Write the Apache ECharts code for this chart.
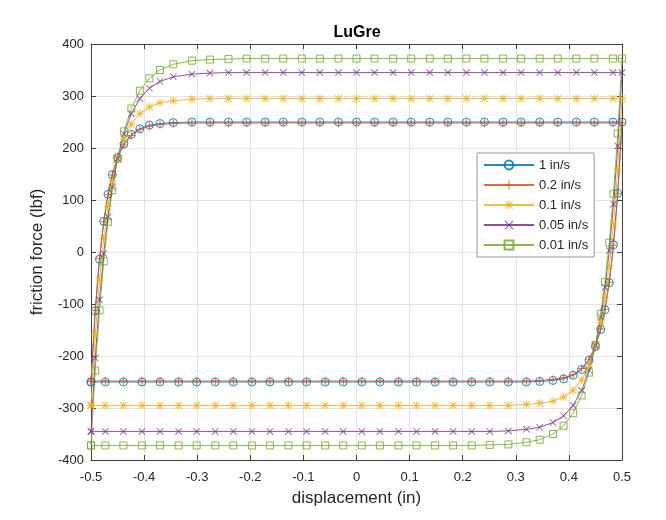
<!DOCTYPE html>
<html>
<head>
<meta charset="utf-8">
<script src="https://cdn.jsdelivr.net/npm/echarts@6/dist/echarts.min.js"></script>
<style>
  html, body { margin: 0; padding: 0; background: #fff; }
  #my_chart { width: 666px; height: 520px; }
</style>
</head>
<body>
<div id="my_chart"></div>
<script>
// displacement (in): going right (upper branch), then coming back (lower branch)
var upX = [-0.5, -0.492, -0.484, -0.476, -0.468, -0.46, -0.45, -0.438, -0.424, -0.408,
    -0.39, -0.37, -0.345, -0.31, -0.276, -0.241, -0.207, -0.172, -0.138, -0.103,
    -0.069, -0.034, 0, 0.034, 0.069, 0.103, 0.138, 0.172, 0.207, 0.241,
    0.276, 0.31, 0.345, 0.379, 0.414, 0.448, 0.483, 0.5];
var downX = [0.492, 0.484, 0.476, 0.468, 0.46, 0.45, 0.438, 0.424, 0.408, 0.39,
    0.37, 0.345, 0.32, 0.286, 0.251, 0.217, 0.182, 0.148, 0.113, 0.079,
    0.044, 0.01, -0.025, -0.059, -0.094, -0.128, -0.163, -0.197, -0.232, -0.266,
    -0.301, -0.335, -0.37, -0.404, -0.439, -0.473, -0.5];

// friction force (lbf)
var f1Up = [-250, -113, -14, 59, 111, 149, 182, 208, 226, 237, 244, 247, 249, 250,
    250, 250, 250, 250, 250, 250, 250, 250, 250, 250, 250, 250,
    250, 250, 250, 250, 250, 250, 250, 250, 250, 250, 250, 250];
var f1Down = [113, 14, -59, -111, -149, -182, -208, -226, -237, -244, -247, -249, -250, -250, -250,
    -250, -250, -250, -250, -250, -250, -250, -250, -250, -250, -250,
    -250, -250, -250, -250, -250, -250, -250, -250, -250, -250, -250];

var f02Up = [-248, -112, -13, 58, 110, 148, 181, 206, 224, 236, 242, 245, 247, 248,
    248, 248, 248, 248, 248, 248, 248, 248, 248, 248, 248, 248,
    248, 248, 248, 248, 248, 248, 248, 248, 248, 248, 248, 248];
var f02Down = [112, 13, -58, -110, -148, -181, -206, -224, -236, -242, -245, -247, -248, -248, -248,
    -248, -248, -248, -248, -248, -248, -248, -248, -248, -248, -248,
    -248, -248, -248, -248, -248, -248, -248, -248, -248, -248, -248];

var f01Up = [-295, -159, -54, 26, 88, 136, 180, 218, 246, 266, 279, 287, 291, 294,
    295, 295, 295, 295, 295, 295, 295, 295, 295, 295, 295, 295,
    295, 295, 295, 295, 295, 295, 295, 295, 295, 295, 295, 295];
var f01Down = [159, 54, -26, -88, -136, -180, -218, -246, -266, -279, -287, -291, -293, -295, -295,
    -295, -295, -295, -295, -295, -295, -295, -295, -295, -295, -295,
    -295, -295, -295, -295, -295, -295, -295, -295, -295, -295, -295];

var f005Up = [-345, -204, -92, -3, 68, 125, 180, 227, 266, 295, 315, 328, 337, 342,
    344, 345, 345, 345, 345, 345, 345, 345, 345, 345, 345, 345,
    345, 345, 345, 345, 345, 345, 345, 345, 345, 345, 345, 345];
var f005Down = [204, 92, 3, -68, -125, -180, -227, -266, -295, -315, -328, -337, -341, -344, -345,
    -345, -345, -345, -345, -345, -345, -345, -345, -345, -345, -345,
    -345, -345, -345, -345, -345, -345, -345, -345, -345, -345, -345];

var f001Up = [-372, -228, -112, -18, 58, 119, 179, 232, 276, 310, 334, 350, 361, 368,
    370, 371, 372, 372, 372, 372, 372, 372, 372, 372, 372, 372,
    372, 372, 372, 372, 372, 372, 372, 372, 372, 372, 372, 372];
var f001Down = [228, 112, 18, -58, -119, -179, -232, -276, -310, -334, -350, -361, -366, -370, -371,
    -372, -372, -372, -372, -372, -372, -372, -372, -372, -372, -372,
    -372, -372, -372, -372, -372, -372, -372, -372, -372, -372, -372];

var speedNames = ['1 in/s', '0.2 in/s', '0.1 in/s', '0.05 in/s', '0.01 in/s'];

// marker shapes like matlab 'o', '+', '*', 'x', 's'
var plusPath = 'path://M4.4,0H5.6V10H4.4Z M0,4.4H10V5.6H0Z';
var crossPath = 'path://M0.8,0L10,9.2L9.2,10L0,0.8Z M9.2,0L10,0.8L0.8,10L0,9.2Z';
var starPath = 'path://M4.4,0H5.6V10H4.4Z M0,4.4H10V5.6H0Z M1.3,0.5L9.5,8.7L8.7,9.5L0.5,1.3Z M8.7,0.5L9.5,1.3L1.3,9.5L0.5,8.7Z';

function loop(fUp, fDown) {
    var out = [];
    for (var i = 0; i < upX.length; i++) out.push([upX[i], fUp[i]]);
    for (var j = 0; j < downX.length; j++) out.push([downX[j], fDown[j]]);
    return out;
}

var looks = [
    {color: '#0072BD', symbol: 'circle', size: 8, hollow: true},
    {color: '#D95319', symbol: plusPath, size: 8, hollow: false},
    {color: '#EDB120', symbol: starPath, size: 8, hollow: false},
    {color: '#7E2F8E', symbol: crossPath, size: 7, hollow: false},
    {color: '#77AC30', symbol: 'rect', size: 7, hollow: true}
];
var loops = [
    loop(f1Up, f1Down),
    loop(f02Up, f02Down),
    loop(f01Up, f01Down),
    loop(f005Up, f005Down),
    loop(f001Up, f001Down)
];

var series = [];
for (var s = 0; s < loops.length; s++) {
    var lk = looks[s];
    series.push({
        name: speedNames[s],
        type: 'line',
        data: loops[s],
        symbol: lk.symbol,
        symbolSize: lk.size,
        showAllSymbol: true,
        lineStyle: {color: lk.color, width: 1, opacity: 0.85},
        itemStyle: lk.hollow
            ? {color: 'rgba(255,255,255,0)', borderColor: lk.color, borderWidth: 1, opacity: 0.85}
            : {color: lk.color, borderWidth: 0, opacity: 0.85},
        emphasis: {disabled: true},
        animation: false
    });
}

var font = 'Liberation Sans, Arial, Helvetica, sans-serif';
var boxColor = '#404040';

var myChart = echarts.init(document.getElementById('my_chart'));
var option = {
    backgroundColor: '#fff',
    animation: false,
    title: {
        text: 'LuGre',
        left: 352,
        top: 20,
        textAlign: 'center',
        textStyle: {fontSize: 16, fontWeight: 'bold', color: '#000', fontFamily: font}
    },
    legend: {
        orient: 'vertical',
        left: 477,
        top: 153,
        padding: [5, 6, 5, 6],
        itemWidth: 50,
        itemHeight: 11,
        itemGap: 6,
        backgroundColor: '#fff',
        borderColor: '#999',
        borderWidth: 1,
        data: speedNames,
        textStyle: {fontSize: 13, lineHeight: 14, color: '#262626', fontFamily: font}
    },
    grid: {left: 91, right: 44, top: 44, bottom: 60, outerBoundsMode: 'none'},
    xAxis: [
        {
            type: 'value',
            min: -0.5,
            max: 0.5,
            interval: 0.1,
            name: 'displacement (in)',
            nameLocation: 'middle',
            nameGap: 30,
            nameTextStyle: {fontSize: 17, color: '#262626', fontFamily: font},
            axisLine: {show: true, onZero: false, lineStyle: {color: boxColor, width: 1}},
            axisTick: {show: true, inside: true, length: 5, lineStyle: {color: boxColor}},
            axisLabel: {
                margin: 11, fontSize: 13, color: '#262626', fontFamily: font,
                formatter: function (v) { return String(+v.toFixed(1)); }
            },
            splitLine: {show: true, lineStyle: {color: '#e3e3e3', width: 1}}
        },
        {
            type: 'value',
            position: 'top',
            min: -0.5,
            max: 0.5,
            interval: 0.1,
            axisLine: {show: true, onZero: false, lineStyle: {color: boxColor, width: 1}},
            axisTick: {show: true, inside: true, length: 5, lineStyle: {color: boxColor}},
            axisLabel: {show: false},
            splitLine: {show: false}
        }
    ],
    yAxis: [
        {
            type: 'value',
            min: -400,
            max: 400,
            interval: 100,
            name: 'friction force (lbf)',
            nameLocation: 'middle',
            nameGap: 45,
            nameTextStyle: {fontSize: 17, color: '#262626', fontFamily: font},
            axisLine: {show: true, onZero: false, lineStyle: {color: boxColor, width: 1}},
            axisTick: {show: true, inside: true, length: 5, lineStyle: {color: boxColor}},
            axisLabel: {margin: 7, fontSize: 13, color: '#262626', fontFamily: font},
            splitLine: {show: true, lineStyle: {color: '#e3e3e3', width: 1}}
        },
        {
            type: 'value',
            position: 'right',
            min: -400,
            max: 400,
            interval: 100,
            axisLine: {show: true, onZero: false, lineStyle: {color: boxColor, width: 1}},
            axisTick: {show: true, inside: true, length: 5, lineStyle: {color: boxColor}},
            axisLabel: {show: false},
            splitLine: {show: false}
        }
    ],
    series: series
};
myChart.setOption(option, true);
</script>
</body>
</html>
